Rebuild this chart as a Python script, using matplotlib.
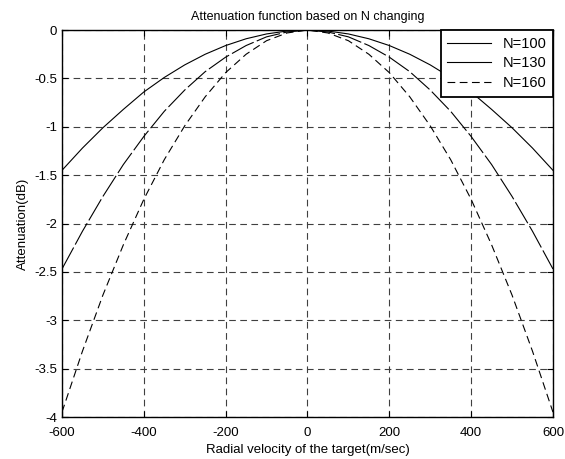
import matplotlib.pyplot as plt
import numpy as np

plt.rcParams['font.family'] = ['Liberation Sans', 'DejaVu Sans']
plt.rcParams['axes.unicode_minus'] = False

# radial velocity (m/s), one side; curves are symmetric about 0
v_half = [0, 50, 100, 150, 200, 250, 300, 350, 400, 450, 500, 550, 600]
att_100 = [0, 0.01, 0.04, 0.09, 0.16, 0.25, 0.36, 0.49, 0.64, 0.82, 1.01, 1.22, 1.45]
att_130 = [0, 0.02, 0.07, 0.16, 0.28, 0.43, 0.62, 0.84, 1.10, 1.39, 1.72, 2.08, 2.47]
att_160 = [0, 0.03, 0.11, 0.25, 0.44, 0.69, 0.99, 1.34, 1.75, 2.22, 2.74, 3.32, 3.95]
labels = ['N=100', 'N=130', 'N=160']


def mirror(v, a):
    v = np.array(v, dtype=float)
    a = -np.array(a, dtype=float)
    return np.concatenate([-v[:0:-1], v]), np.concatenate([a[:0:-1], a])


fig = plt.figure(figsize=(5.65, 4.59), dpi=100)
ax = fig.add_axes([0.1097, 0.0915, 0.869, 0.843])

styles = ['-', (0, (22, 3)), (0, (7, 4))]
for att, ls, lab in zip([att_100, att_130, att_160], styles, labels):
    x, y = mirror(v_half, att)
    ax.plot(x, y, color='black', linestyle=ls, linewidth=0.8, label=lab)

ax.set_xlim(-600, 600)
ax.set_ylim(-4, 0)
ax.set_xticks(np.arange(-600, 601, 200))
ax.set_yticks(np.arange(-4, 0.01, 0.5))
ax.set_yticklabels(['-4', '-3.5', '-3', '-2.5', '-2', '-1.5', '-1', '-0.5', '0'])
ax.grid(True, color='0.25', linestyle=(0, (6, 4)), linewidth=0.8)
ax.tick_params(direction='in', top=True, right=True, labelsize=9.5, length=4, width=0.8)
ax.tick_params(axis='x', pad=7)
for s in ax.spines.values():
    s.set_linewidth(1.0)

ax.set_title('Attenuation function based on N changing', fontsize=9, pad=7)
ax.set_xlabel('Radial velocity of the target(m/sec)', fontsize=9.5, labelpad=4)
ax.set_ylabel('Attenuation(dB)', fontsize=9.5, labelpad=4)

leg = ax.legend(loc='upper right', fontsize=10.5, fancybox=False, framealpha=1,
                edgecolor='black', borderaxespad=0, handlelength=3.0,
                labelspacing=0.4, borderpad=0.45)
leg.get_frame().set_linewidth(1.3)
leg.get_lines()[1].set_linestyle('-')

fig.savefig('out.png', dpi=100)
